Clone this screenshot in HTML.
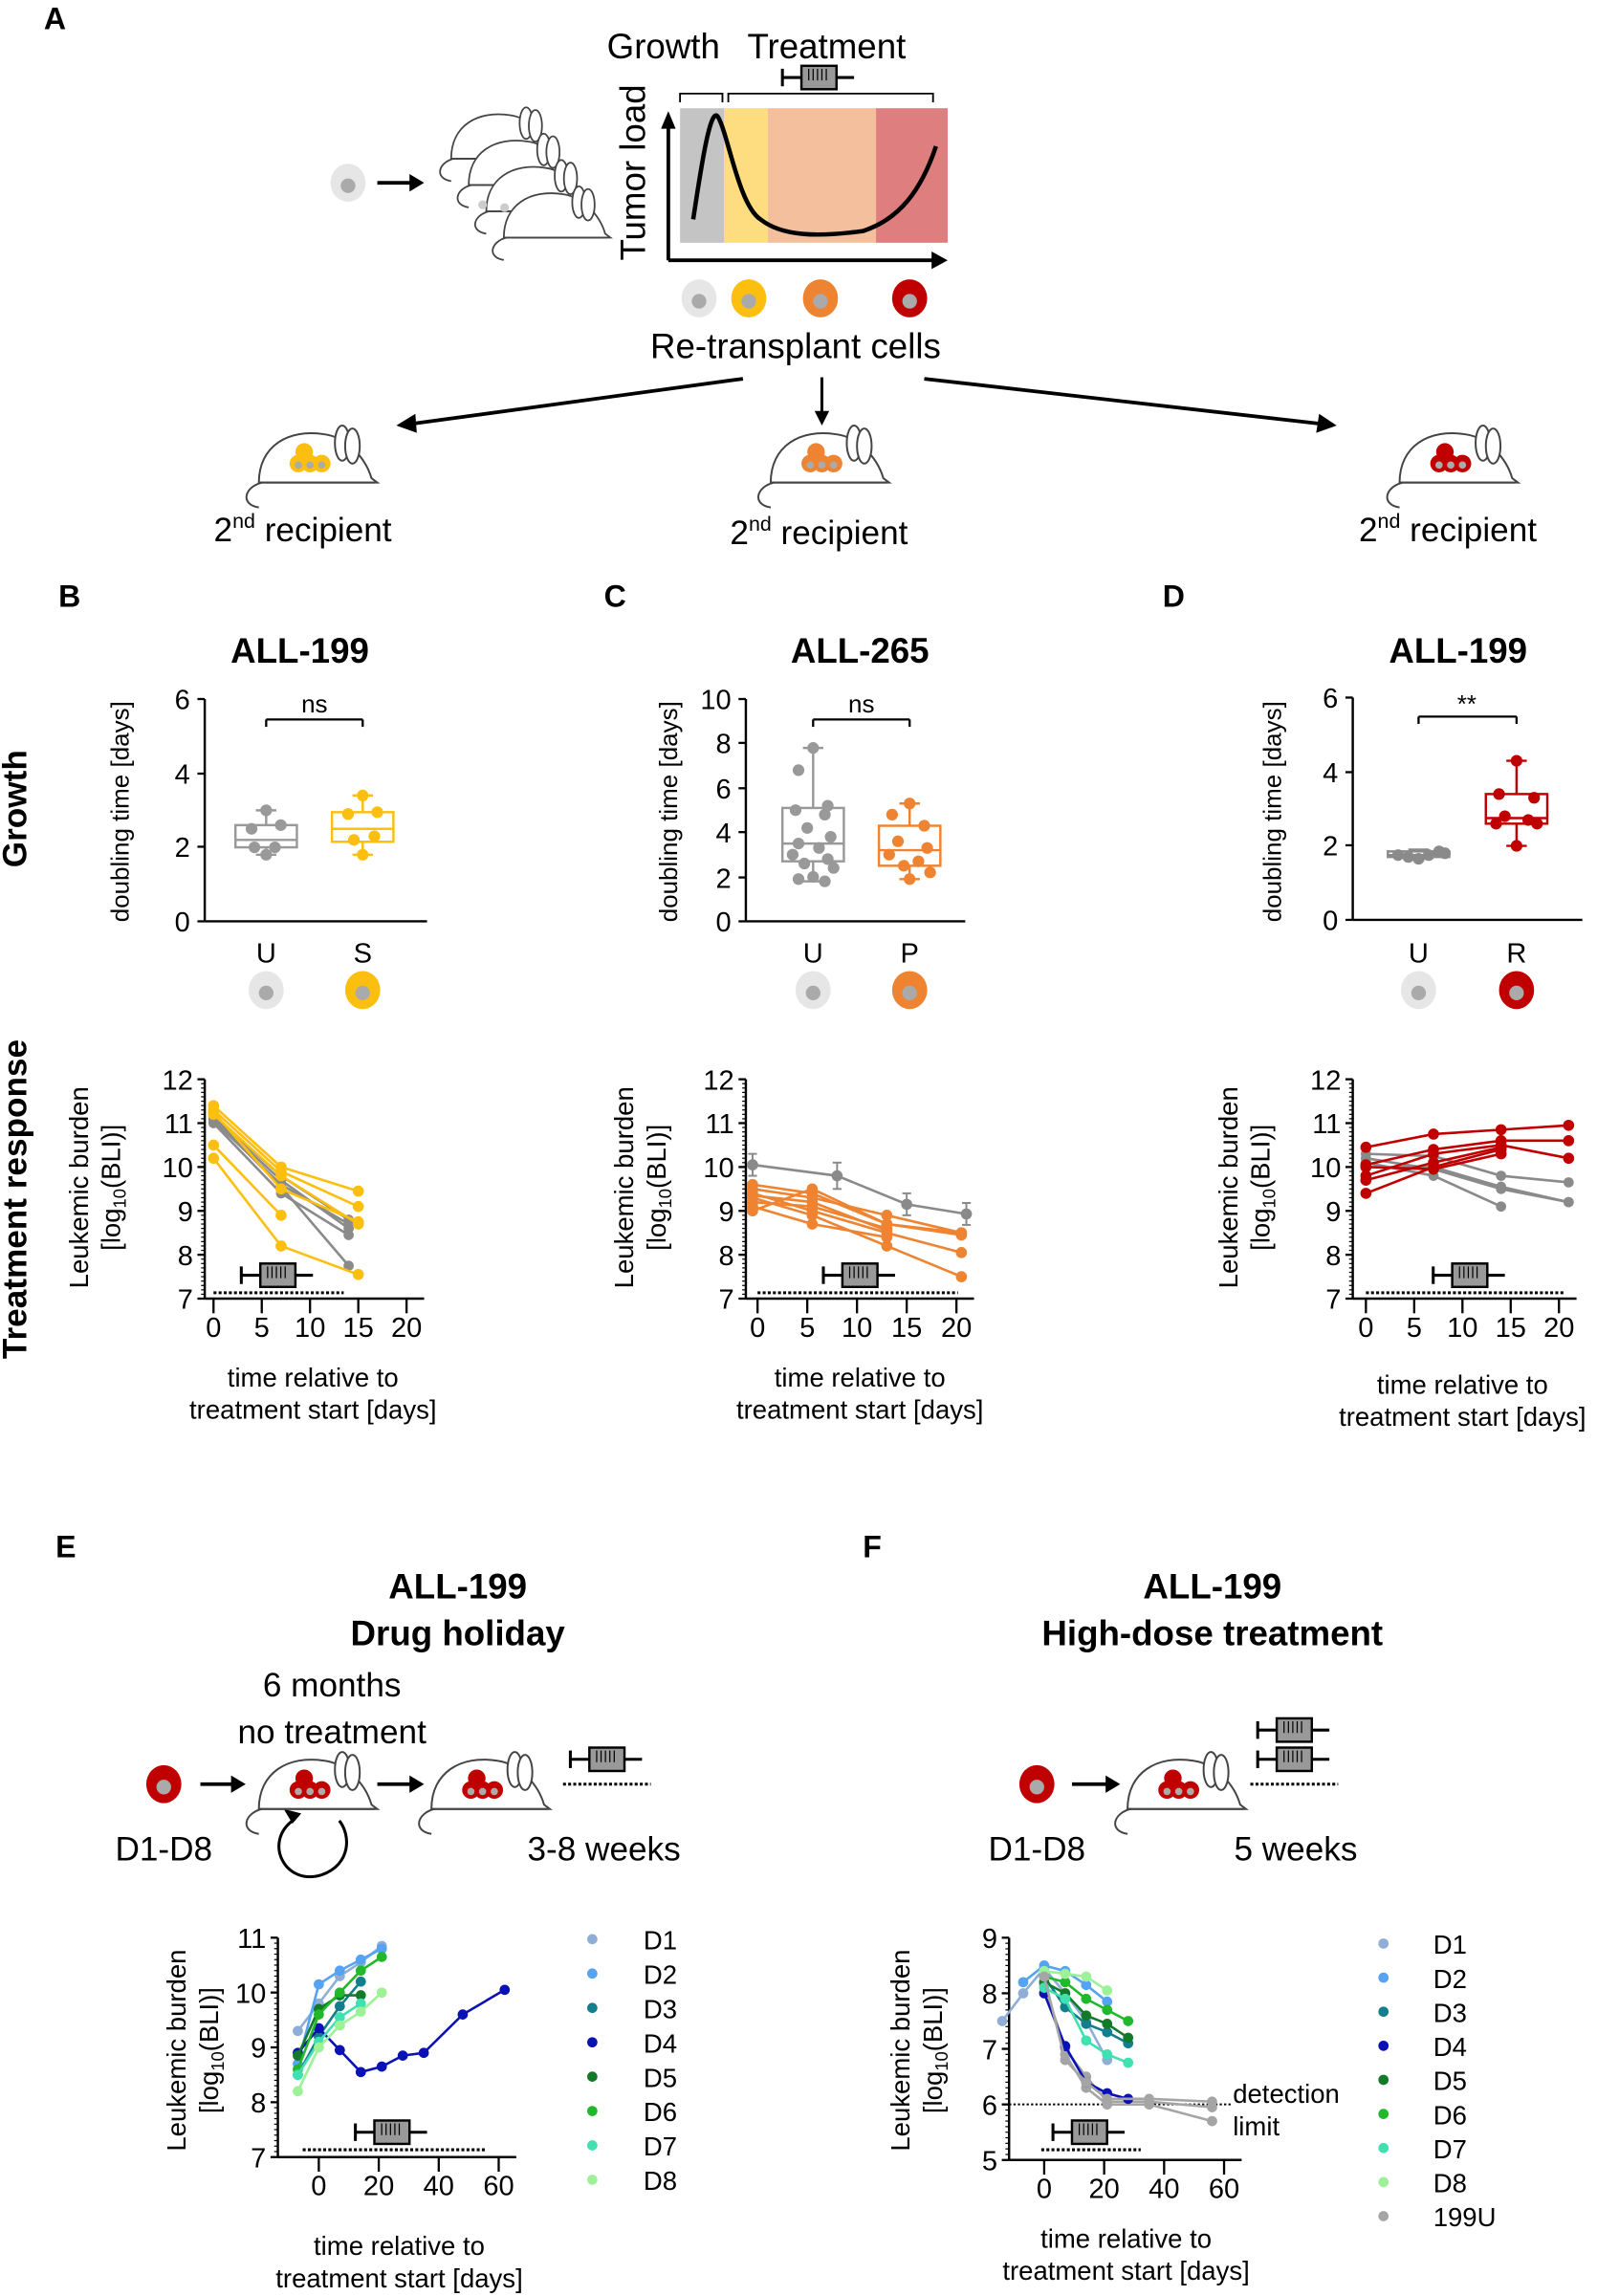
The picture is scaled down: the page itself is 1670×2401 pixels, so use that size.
<!DOCTYPE html>
<html><head><meta charset="utf-8"><style>
html,body{margin:0;padding:0;background:#fff}
svg{display:block}
text{font-family:"Liberation Sans",Arial,sans-serif;fill:#000}
</style></head><body>
<svg id="s" width="1670" height="2401" viewBox="0 0 1092 1570" xmlns="http://www.w3.org/2000/svg">
<g font-size="21">
<text x="30" y="20" font-weight="bold" font-size="21">A</text>
<text x="415" y="40" font-size="24">Growth</text><text x="511" y="40" font-size="24">Treatment</text>
<rect x="465" y="74" width="30" height="92" fill="#c4c4c4"/>
<rect x="495" y="74" width="30" height="92" fill="#fedd80"/>
<rect x="525" y="74" width="74" height="92" fill="#f4bf9c"/>
<rect x="599" y="74" width="49" height="92" fill="#df7e7e"/>
<path d="M474 150 C480 110 486 72 491 80 C498 92 505 140 520 150 C535 162 560 162 590 158 C615 150 630 130 640 100" fill="none" stroke="#000" stroke-width="3"/>
<path d="M457 178 V84" stroke="#000" stroke-width="2.5"/><path d="M452 88 L457 76 L462 88Z"/>
<path d="M457 178 H640" stroke="#000" stroke-width="2.5"/><path d="M637 172 L648 178 L637 184Z"/>
<text transform="translate(441,118) rotate(-90)" text-anchor="middle" font-size="24">Tumor load</text>
<path d="M465 70 V64 H494 V70 M498 70 V64 H638 V70" fill="none" stroke="#000" stroke-width="1.2"/>
<text x="544" y="245" text-anchor="middle" font-size="24">Re-transplant cells</text>
<path d="M508 259 L280 290" stroke="#000" stroke-width="2.5"/><path d="M271 291 L284 283 L285 296Z"/>
<path d="M562 258 V283" stroke="#000" stroke-width="2"/><path d="M557 281 L562 291 L567 281Z"/>
<path d="M632 259 L905 290" stroke="#000" stroke-width="2.5"/><path d="M914 291 L900 296 L902 283Z"/>
<text x="207" y="370" text-anchor="middle" font-size="23">2<tspan font-size="14" dy="-9">nd</tspan><tspan dy="9"> recipient</tspan></text>
<text x="560" y="372" text-anchor="middle" font-size="23">2<tspan font-size="14" dy="-9">nd</tspan><tspan dy="9"> recipient</tspan></text>
<text x="990" y="370" text-anchor="middle" font-size="23">2<tspan font-size="14" dy="-9">nd</tspan><tspan dy="9"> recipient</tspan></text>
<path d="M258 125 H282" stroke="#000" stroke-width="2.5"/><path d="M280 119 L290 125 L280 131Z"/>
<text x="40" y="415" font-weight="bold">B</text><text x="413" y="415" font-weight="bold">C</text><text x="795" y="415" font-weight="bold">D</text>
<text x="205" y="453" text-anchor="middle" font-weight="bold" font-size="24">ALL-199</text>
<text x="588" y="453" text-anchor="middle" font-weight="bold" font-size="24">ALL-265</text>
<text x="997" y="453" text-anchor="middle" font-weight="bold" font-size="24">ALL-199</text>
<text transform="translate(18,553) rotate(-90)" text-anchor="middle" font-weight="bold" font-size="23">Growth</text>
<text transform="translate(18,820) rotate(-90)" text-anchor="middle" font-weight="bold" font-size="23">Treatment response</text>
<text x="38" y="1065" font-weight="bold">E</text><text x="590" y="1065" font-weight="bold">F</text>
<text x="313" y="1093" text-anchor="middle" font-weight="bold" font-size="24">ALL-199</text>
<text x="313" y="1125" text-anchor="middle" font-weight="bold" font-size="24">Drug holiday</text>
<text x="829" y="1093" text-anchor="middle" font-weight="bold" font-size="24">ALL-199</text>
<text x="829" y="1125" text-anchor="middle" font-weight="bold" font-size="24">High-dose treatment</text>
<text x="227" y="1160" text-anchor="middle" font-size="23">6 months</text>
<text x="227" y="1192" text-anchor="middle" font-size="23">no treatment</text>
<text x="112" y="1272" text-anchor="middle" font-size="23">D1-D8</text>
<text x="413" y="1272" text-anchor="middle" font-size="23">3-8 weeks</text>
<text x="709" y="1272" text-anchor="middle" font-size="23">D1-D8</text>
<text x="886" y="1272" text-anchor="middle" font-size="23">5 weeks</text>
<path d="M137 1220 H160 M258 1220 H282 M733 1220 H758" stroke="#000" stroke-width="2.5"/>
<path d="M158 1214 L168 1220 L158 1226Z M280 1214 L290 1220 L280 1226Z M756 1214 L766 1220 L756 1226Z"/>
<path d="M200 1245 C180 1260 195 1290 220 1282 C240 1275 240 1255 232 1245" fill="none" stroke="#000" stroke-width="2"/>
<path d="M194 1237 L200 1247 L206 1240Z"/>
<text x="843" y="1438" font-size="18">detection</text><text x="843" y="1460" font-size="18">limit</text>
</g>
<g id="dyn"></g>
</svg>
<script>
var g=document.getElementById('dyn'),h='';
function L(x1,y1,x2,y2,c,w,da){h+='<line x1="'+x1+'" y1="'+y1+'" x2="'+x2+'" y2="'+y2+'" stroke="'+(c||'#000')+'" stroke-width="'+(w||1.5)+'"'+(da?' stroke-dasharray="'+da+'"':'')+'/>';}
function C(x,y,r,f){h+='<circle cx="'+x+'" cy="'+y+'" r="'+r+'" fill="'+f+'"/>';}
function T(x,y,s,sz,a){h+='<text x="'+x+'" y="'+y+'" font-size="'+(sz||18)+'" text-anchor="'+(a||'middle')+'">'+s+'</text>';}
function R(x,y,s,sz){h+='<text transform="translate('+x+','+y+') rotate(-90)" font-size="'+(sz||18)+'" text-anchor="middle">'+s+'</text>';}
function cell(x,y,c){h+='<ellipse cx="'+x+'" cy="'+y+'" rx="12" ry="13" fill="'+c+'"/>';C(x,y+2,5,'#aaa');}
function syr(x,y){h+='<rect x="'+(x-12)+'" y="'+(y-8)+'" width="24" height="16" fill="#999" stroke="#000" stroke-width="1.6"/>';L(x-25,y,x-12,y,'#000',2);L(x-25,y-6,x-25,y+6,'#000',2);L(x+12,y,x+24,y,'#000',2);for(var i=0;i<5;i++)L(x-7+i*3,y-6,x-7+i*3,y+2,'#000',0.8);}
function mouse(x,y,c,s){s=s||1;h+='<g transform="translate('+x+','+y+') scale('+s+')" fill="#fff" stroke="#444" stroke-width="1.3"><path d="M-35 15 C-35 -10 -15 -22 10 -18 C25 -16 38 -2 42 12 L46 15 Z"/><ellipse cx="22" cy="-12" rx="5" ry="12"/><ellipse cx="29" cy="-10" rx="5" ry="12"/><path d="M-33 15 C-45 18 -48 30 -35 32" fill="none"/><line x1="-35" y1="15" x2="44" y2="15"/></g>';if(c){for(var k of [[-8,2],[0,2],[8,2],[-4,-6]])C(x+k[0]*s,y+k[1]*s,6*s,c);for(var k of [[-8,3],[0,3],[8,3]])C(x+k[0]*s,y+k[1]*s,2.5*s,'#aaa');}}
// panel A
cell(238,125,'#e6e6e6');
for(var i=0;i<4;i++)mouse(340+i*12,95+i*18,null,0.9);
C(330,140,3,'#ccc');C(345,142,3,'#ccc');
cell(478,204,'#e6e6e6');cell(512,204,'#fdbf0f');cell(561,204,'#ee8431');cell(622,204,'#c00000');
syr(560,53);
mouse(212,315,'#fdbf0f');mouse(562,315,'#ee8431');mouse(992,315,'#c00000');
// growth box plots
function axisY(x,y0,y1,ticks,lab,xe){L(x,y0,x,y1,'#000',1.6);L(x,y1,xe,y1,'#000',1.6);ticks.forEach(function(t){L(x-5,t[1],x,t[1]);T(x-10,t[1]+7,t[0],19,'end');});}
function box(cx,col,sc,q1,md,q3,lo,hi,pts){var w=21;h+='<rect x="'+(cx-w)+'" y="'+sc(q3)+'" width="'+2*w+'" height="'+(sc(q1)-sc(q3))+'" fill="none" stroke="'+col+'" stroke-width="1.6"/>';L(cx-w,sc(md),cx+w,sc(md),col,1.6);L(cx,sc(q3),cx,sc(hi),col,1.6);L(cx,sc(q1),cx,sc(lo),col,1.6);L(cx-7,sc(hi),cx+7,sc(hi),col,1.6);L(cx-7,sc(lo),cx+7,sc(lo),col,1.6);pts.forEach(function(p){C(cx+p[0],sc(p[1]),4,col);});}
var gy='#8a8a8a';
// B
var sB=function(v){return 630-v*25.3};axisY(140,478,630,[[6,478],[4,529],[2,579],[0,630]],'',292);
box(182,'#999',sB,2.0,2.2,2.6,1.8,3.0,[[-10,2.5],[10,2.6],[0,3.0],[-8,2.0],[6,2.0],[0,1.8]].map(function(p){return p}));
box(248,'#fdbf0f',sB,2.15,2.5,2.95,1.8,3.4,[[0,3.4],[-10,2.9],[10,2.95],[-6,2.2],[8,2.3],[0,1.8]]);
T(182,658,'U',19);T(248,658,'S',19);cell(182,677,'#e6e6e6');cell(248,677,'#fdbf0f');
L(182,492,248,492);L(182,492,182,497);L(248,492,248,497);T(215,487,'ns',17);
R(88,555,'doubling time [days]',17);
// C
var sC=function(v){return 630-v*15.2};axisY(510,478,630,[[10,478],[8,508],[6,539],[4,569],[2,600],[0,630]],'',660);
box(556,'#999',sC,2.7,3.5,5.1,1.8,7.8,[[0,7.8],[-10,6.8],[10,5.2],[-12,5.0],[8,4.8],[-4,4.2],[12,3.8],[-10,3.5],[4,3.3],[-14,3.0],[10,2.8],[-6,2.6],[14,2.4],[0,2.0],[-10,1.9],[8,1.8]]);
box(622,'#ee8431',sC,2.5,3.2,4.3,1.9,5.3,[[0,5.3],[-12,4.8],[10,4.3],[-8,3.6],[12,3.3],[-14,3.0],[6,2.7],[-4,2.5],[14,2.2],[0,1.9]]);
T(556,658,'U',19);T(622,658,'P',19);cell(556,677,'#e6e6e6');cell(622,677,'#ee8431');
L(556,492,622,492);L(556,492,556,497);L(622,492,622,497);T(589,487,'ns',17);
R(463,555,'doubling time [days]',17);
// D
var sD=function(v){return 629-v*25.3};axisY(925,477,629,[[6,477],[4,528],[2,578],[0,629]],'',1082);
box(970,gy,sD,1.7,1.75,1.85,1.65,1.9,[[-14,1.75],[-7,1.7],[0,1.65],[7,1.75],[14,1.85],[18,1.8]]);
box(1037,'#c00000',sD,2.6,2.75,3.4,2.0,4.3,[[0,4.3],[-12,3.4],[12,3.3],[-8,2.8],[8,2.7],[-14,2.6],[14,2.6],[0,2.0]]);
T(970,658,'U',19);T(1037,658,'R',19);cell(970,677,'#e6e6e6');cell(1037,677,'#c00000');
L(970,490,1037,490);L(970,490,970,495);L(1037,490,1037,495);T(1003,487,'**',17);
R(876,555,'doubling time [days]',17);
// treatment plots
function tplot(ax,x0,dx,ymax,nt,yTop,yBot,xt,xlabY){L(ax,yTop,ax,yBot,'#000',1.6);var ppu=(yBot-yTop)/nt;for(var i=0;i<=nt;i++){var y=yBot-i*ppu;L(ax-5,y,ax,y);T(ax-8,y+7,ymax-nt+i,19,'end');for(var j=1;j<10&&i<nt;j++)L(ax-2.5,y-j*ppu/10,ax,y-j*ppu/10,'#000',0.8);}
L(ax,yBot,xt[xt.length-1][1]+12,yBot,'#000',1.6);xt.forEach(function(t){L(t[1],yBot,t[1],yBot+10);T(t[1],yBot+26,t[0],19);});}
function ser(pts,col,fx,fy,r){var d='';pts.forEach(function(p,i){d+=(i?'L':'M')+fx(p[0])+' '+fy(p[1]);});h+='<path d="'+d+'" fill="none" stroke="'+col+'" stroke-width="1.7"/>';pts.forEach(function(p){C(fx(p[0]),fy(p[1]),r||3.8,col);});}
var Y=function(v){return 888-(v-7)*30};
function xlab(cx,y){T(cx,y,'time relative to',18);T(cx,y+22,'treatment start [days]',18);}
function ylab(x,y){R(x,y,'Leukemic burden',18);R(x+22,y,'[log<tspan font-size="12" dy="4">10</tspan><tspan dy="-4">(BLI)]</tspan>',18);}
// B
tplot(140,146,6.6,12,5,738,888,[[0,146],[5,179],[10,212],[15,245],[20,278]]);
var fB=function(d){return 146+d*6.6};
[[[0,11.05],[7,9.6],[14,8.7]],[[0,11.1],[7,9.7],[14,8.6]],[[0,11.0],[7,9.4],[14,8.45]],[[0,11.15],[7,9.8],[14,8.8]],[[0,11.1],[7,9.55],[14,7.75]]].forEach(function(p){ser(p,gy,fB,Y,3.5)});
[[[0,11.4],[7,10.0],[15,9.45]],[[0,11.3],[7,9.9],[15,9.1]],[[0,11.2],[7,9.8],[15,8.7]],[[0,11.25],[7,9.5],[15,8.75]],[[0,10.5],[7,8.9]],[[0,10.2],[7,8.2],[15,7.55]]].forEach(function(p){ser(p,'#fdbf0f',fB,Y)});
syr(190,872);L(146,884,235,884,'#000',2,'2 1.5');
ylab(60,812);xlab(214,948);
// C
tplot(510,518,6.8,12,5,738,888,[[0,518],[5,552],[10,586],[15,620],[20,654]]);
var fC=function(d){return 518+d*6.8};
[[[-0.5,9.6],[5.5,9.4],[13,8.7],[20.5,8.5]],[[-0.5,9.5],[5.5,9.3],[13,8.9],[20.5,8.5]],[[-0.5,9.4],[5.5,9.0],[13,8.5],[20.5,8.05]],[[-0.5,9.3],[5.5,8.9],[13,8.2],[20.5,7.5]],[[-0.5,9.2],[5.5,9.1],[13,8.6]],[[-0.5,9.1],[5.5,8.7],[13,8.4]],[[-0.5,9.0],[5.5,9.5],[13,8.7],[20.5,8.45]],[[-0.5,9.35],[5.5,9.2],[13,8.55]]].forEach(function(p){ser(p,'#ee8431',fC,Y)});
var gp=[[-0.5,10.05,0.25],[8,9.8,0.3],[15,9.15,0.25],[21,8.93,0.25]];gp.forEach(function(p){L(fC(p[0]),Y(p[1]+p[2]),fC(p[0]),Y(p[1]-p[2]),gy,1.3);L(fC(p[0])-3,Y(p[1]+p[2]),fC(p[0])+3,Y(p[1]+p[2]),gy,1.3);L(fC(p[0])-3,Y(p[1]-p[2]),fC(p[0])+3,Y(p[1]-p[2]),gy,1.3);});
ser(gp,gy,fC,Y);
syr(588,872);L(518,884,655,884,'#000',2,'2 1.5');
ylab(433,812);xlab(588,948);
// D
tplot(925,934,6.6,12,5,738,888,[[0,934],[5,967],[10,1000],[15,1033],[20,1066]]);
var fD=function(d){return 934+d*6.6};
[[[0,10.3],[7,10.25],[14,9.8],[21,9.65]],[[0,10.2],[7,9.95],[14,9.5],[21,9.2]],[[0,10.0],[7,10.0],[14,9.55],[21,9.2]],[[0,10.1],[7,9.8],[14,9.1]]].forEach(function(p){ser(p,gy,fD,Y,3.5)});
[[[0,10.45],[7,10.75],[14,10.85],[21,10.95]],[[0,10.05],[7,10.4],[14,10.6],[21,10.6]],[[0,9.8],[7,10.3],[14,10.5],[21,10.2]],[[0,9.4],[7,10.0],[14,10.4]],[[0,9.7],[7,10.1],[14,10.45]],[[0,10.0],[7,9.95],[14,10.3]]].forEach(function(p){ser(p,'#c00000',fD,Y)});
syr(1005,872);L(934,884,1070,884,'#000',2,'2 1.5');
ylab(846,812);xlab(1000,953);
// E
cell(112,1220,'#c00000');mouse(212,1222,'#c00000');mouse(330,1222,'#c00000');
syr(415,1203);L(385,1220,445,1220,'#000',2,'2 1.5');
var col={D1:'#8eaed8',D2:'#55a3f2',D3:'#137f8c',D4:'#0a12b5',D5:'#127a28',D6:'#22b82b',D7:'#40e0b0',D8:'#9df298','199U':'#a5a5a5'};
var YE=function(v){return 1475-(v-7)*37.5},fE=function(d){return 218+d*2.05};
tplot(190,218,2.05,11,4,1325,1475,[[0,218],[20,259],[40,300],[60,341]]);
var E={D1:[[-7,9.3],[0,9.8],[7,10.3],[14,10.55],[21,10.85]],D2:[[-7,8.7],[0,10.15],[7,10.4],[14,10.6],[21,10.8]],D3:[[-7,8.5],[0,9.2],[7,9.75],[14,10.2]],D4:[[-7,8.9],[0,9.35],[7,8.95],[14,8.55],[21,8.65],[28,8.85],[35,8.9],[48,9.6],[62,10.05]],D5:[[-7,8.85],[0,9.7],[7,9.95],[14,9.95]],D6:[[-7,8.6],[0,9.6],[7,10.0],[14,10.4],[21,10.65]],D7:[[-7,8.5],[0,9.1],[7,9.55],[14,9.8]],D8:[[-7,8.2],[0,9.0],[7,9.4],[14,9.65],[21,10.0]]};
for(var k in E)ser(E[k],col[k],fE,YE,3.5);
syr(268,1458);L(207,1470,333,1470,'#000',2,'2 1.5');
ylab(127,1402);xlab(273,1542);
var i=0;for(var k in E){C(405,1326+i*23.5,3.5,col[k]);T(440,1333+i*23.5,k,18,'start');i++;}
// F
cell(709,1220,'#c00000');mouse(806,1222,'#c00000');
syr(885,1183);syr(885,1203);L(855,1220,915,1220,'#000',2,'2 1.5');
var YF=function(v){return 1477-(v-5)*38},fF=function(d){return 714+d*2.05};
tplot(690,714,2.05,9,4,1325,1477,[[0,714],[20,755],[40,796],[60,837]]);
L(690,1439,843,1439,'#000',1.3,'1.5 1.5');
var F={D1:[[-14,7.5],[-7,8.0],[0,8.45],[7,8.0],[14,7.5],[21,6.8]],D2:[[-7,8.2],[0,8.5],[7,8.4],[14,8.15],[21,7.85]],D3:[[0,8.3],[7,7.75],[14,7.45],[21,7.3],[28,7.1]],D4:[[0,8.0],[7,7.05],[14,6.4],[21,6.2],[28,6.1]],D5:[[0,8.2],[7,8.0],[14,7.6],[21,7.45],[28,7.2]],D6:[[0,8.3],[7,8.2],[14,7.9],[21,7.7],[28,7.5]],D7:[[0,8.1],[7,7.9],[14,7.15],[21,6.9],[28,6.75]],D8:[[0,8.4],[7,8.35],[14,8.3],[21,8.05]],'199U':[[0,8.3],[7,6.8],[14,6.4],[21,6.1],[35,6.1],[56,6.05]]};
ser([[0,8.2],[7,6.9],[14,6.3],[21,6.0],[35,6.0],[56,5.7]],col['199U'],fF,YF,3.5);
ser([[0,8.15],[7,7.0],[14,6.5],[21,6.05],[35,6.05],[56,5.95]],col['199U'],fF,YF,3.5);
for(var k in F)ser(F[k],col[k],fF,YF,3.5);
syr(745,1458);L(712,1470,780,1470,'#000',2,'2 1.5');
ylab(622,1402);xlab(770,1537);
i=0;for(var k in F){C(946,1329+i*23.3,3.5,col[k]);T(980,1336+i*23.3,k,18,'start');i++;}
g.innerHTML=h;
</script>
</body></html>
